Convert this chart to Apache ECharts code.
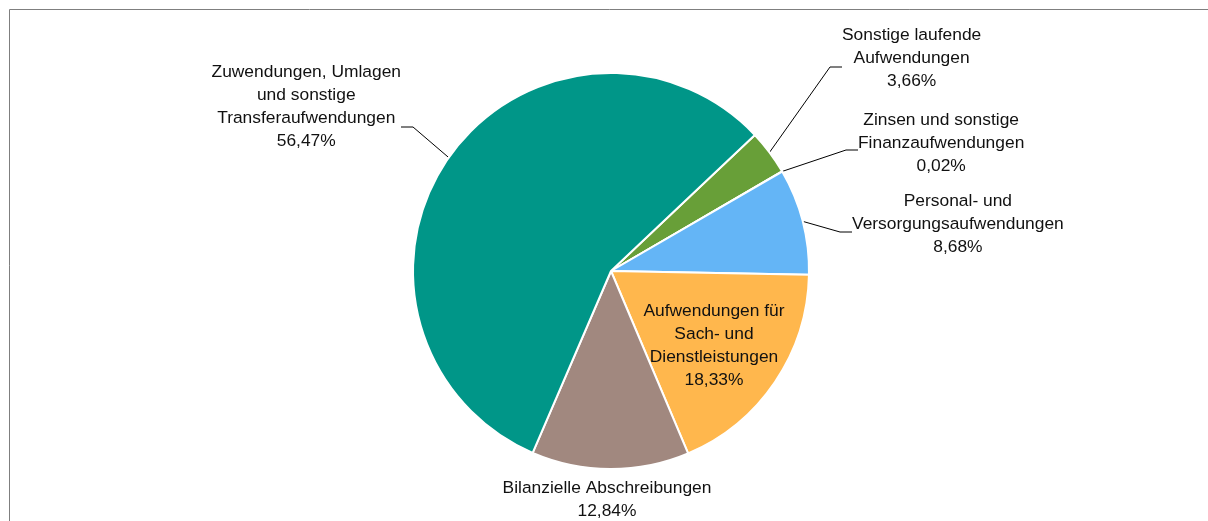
<!DOCTYPE html>
<html>
<head>
<meta charset="utf-8">
<script src="https://cdn.jsdelivr.net/npm/echarts@6/dist/echarts.min.js"></script>
<style>
  html, body { margin: 0; padding: 0; background: #fff; }
  #chart { width: 1208px; height: 521px; }
</style>
</head>
<body>
<div id="chart"></div>
<script>
// categories, clockwise from the green slice
const categories = [
  'Sonstige laufende\nAufwendungen',
  'Zinsen und sonstige\nFinanzaufwendungen',
  'Personal- und\nVersorgungsaufwendungen',
  'Aufwendungen für\nSach- und\nDienstleistungen',
  'Bilanzielle Abschreibungen',
  'Zuwendungen, Umlagen\nund sonstige\nTransferaufwendungen'
]
const shares = [3.66, 0.02, 8.68, 18.33, 12.84, 56.47]
const colors = ['#689F38', '#FF8A65', '#64B5F6', '#FFB74D', '#A1887F', '#009688']

// where each label block sits, like manually moved labels in the original.
// pad = extra space under the text so the leader line meets the right text line
const labelSpots = [
  {x: 842, y: 67, align: 'left', pad: 18},
  {x: 858, y: 150, align: 'left', pad: 14},
  {x: 852, y: 232, align: 'left', pad: 16},
  {x: 714, y: 346, align: 'center', pad: 0},
  {x: 607, y: 500, align: 'center', pad: 0},
  {x: 401, y: 127, align: 'right', pad: 40}
]

const fontFamily = '"Liberation Sans", Arial, sans-serif'

const chart = echarts.init(document.getElementById('chart'))

const data = categories.map((name, i) => {
  const spot = labelSpots[i]
  const item = {
    name: name,
    value: shares[i],
    itemStyle: {color: colors[i]},
    label: {padding: [0, 0, spot.pad, 0], backgroundColor: 'transparent'}
  }
  if (i === 3 || i === 4) {
    item.labelLine = {show: false}
  }
  return item
})

chart.setOption({
  animation: false,
  graphic: [{
    type: 'rect',
    shape: {x: 9.5, y: 9.5, width: 1400, height: 700},
    style: {fill: 'none', stroke: '#7f7f7f', lineWidth: 1},
    silent: true
  }],
  series: [{
    type: 'pie',
    center: [611, 271],
    radius: 198,
    startAngle: 43.4,
    clockwise: true,
    avoidLabelOverlap: false,
    itemStyle: {borderColor: '#fff', borderWidth: 2},
    label: {
      show: true,
      position: 'outside',
      formatter: p => {
        const lines = p.name.split('\n')
        lines.push(p.value.toFixed(2).replace('.', ',') + '%')
        return lines.map(s => '{c|' + s + '}').join('\n')
      },
      rich: {
        c: {
          align: 'center',
          fontFamily: fontFamily,
          fontSize: 17.4,
          lineHeight: 23,
          color: '#111'
        }
      }
    },
    labelLine: {
      show: true,
      length: 20,
      length2: 12,
      lineStyle: {color: '#000', width: 1}
    },
    labelLayout: params => {
      const spot = labelSpots[params.dataIndex]
      return {x: spot.x, y: spot.y, align: spot.align, verticalAlign: 'middle'}
    },
    data: data
  }]
})
</script>
</body>
</html>
